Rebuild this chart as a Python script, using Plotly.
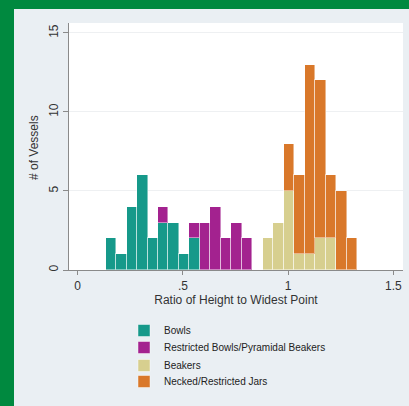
import plotly.graph_objects as go

# ---- data (histogram counts per bin) ----
bin_start = 0.1325
bin_width = 0.0498
bowls      = [2, 1, 4, 6, 2, 3, 3, 1, 2, 0, 0, 0, 0, 0, 0, 0, 0, 0, 0, 0, 0, 0, 0, 0]
restricted = [0, 0, 0, 0, 0, 1, 0, 0, 1, 3, 4, 2, 3, 2, 0, 0, 0, 0, 0, 0, 0, 0, 0, 0]
beakers    = [0, 0, 0, 0, 0, 0, 0, 0, 0, 0, 0, 0, 0, 0, 0, 2, 3, 5, 1, 1, 2, 2, 0, 0]
necked     = [0, 0, 0, 0, 0, 0, 0, 0, 0, 0, 0, 0, 0, 0, 0, 0, 0, 3, 5, 12, 10, 4, 5, 2]
series_names = ["Bowls", "Restricted Bowls/Pyramidal Beakers", "Beakers", "Necked/Restricted Jars"]
series_colors = ["#16998a", "#a3228f", "#d7cf8f", "#d9782a"]
x_ticks = [0, 0.5, 1, 1.5]
x_ticklabels = ["0", ".5", "1", "1.5"]
y_ticks = [0, 5, 10, 15]
x_title = "Ratio of Height to Widest Point"
y_title = "# of Vessels"

W, H = 409, 406
ML, MR, MT, MB = 69, 6, 23, 136
PW, PH = W - ML - MR, H - MT - MB


def px2x(px):
    return (px - ML) / PW


def py2y(py):
    return 1 - (py - MT) / PH


centers = [bin_start + bin_width * (i + 0.5) for i in range(len(bowls))]
legend_ids = ["legend", "legend2", "legend3", "legend4"]
legend_tops = [316, 333, 351, 367]

fig = go.Figure()
for name, vals, col, lid in zip(series_names, [bowls, restricted, beakers, necked], series_colors, legend_ids):
    fig.add_trace(go.Bar(
        x=centers,
        y=[v if v else None for v in vals],
        width=bin_width,
        name=name,
        legend=lid,
        marker=dict(color=col, line=dict(color="rgba(255,255,255,0.45)", width=1)),
    ))

font_family = "Liberation Sans, Arial, sans-serif"

legend_cfg = {}
for lid, top in zip(legend_ids, legend_tops):
    legend_cfg[lid] = dict(
        x=px2x(124), y=py2y(top), xanchor="left", yanchor="top",
        orientation="v", bgcolor="rgba(0,0,0,0)",
        font=dict(size=10, color="#222222"), itemwidth=30,
    )

fig.update_layout(
    width=W, height=H,
    margin=dict(l=ML, r=MR, t=MT, b=MB, pad=0),
    barmode="stack", bargap=0,
    paper_bgcolor="#eaeff3", plot_bgcolor="#ffffff",
    font=dict(family=font_family, color="#333333"),
    xaxis=dict(
        range=[-0.0413, 1.5454], tickvals=x_ticks, ticktext=x_ticklabels,
        ticks="outside", ticklen=4, tickcolor="#8a8a8a", tickwidth=1,
        showline=True, linecolor="#8a8a8a", linewidth=1,
        showgrid=False, zeroline=False, ticklabelstandoff=1,
        tickfont=dict(size=12, color="#333333"),
        title=dict(text=x_title, font=dict(size=12, color="#333333"), standoff=1),
    ),
    yaxis=dict(
        range=[0, 15.63], tickvals=y_ticks, tickangle=-90,
        ticks="outside", ticklen=5, tickcolor="#8a8a8a", tickwidth=1,
        showline=True, linecolor="#8a8a8a", linewidth=1,
        showgrid=True, gridcolor="#eef0f2", gridwidth=1, zeroline=False,
        tickfont=dict(size=12, color="#333333"),
    ),
    annotations=[
        dict(text=y_title, xref="paper", yref="paper", x=px2x(34), y=py2y(148),
             xanchor="center", yanchor="middle", textangle=-90, showarrow=False,
             font=dict(size=12, color="#333333")),
    ],
    showlegend=True,
    shapes=[
        dict(type="rect", xref="paper", yref="paper", x0=px2x(0), x1=px2x(14),
             y0=py2y(H), y1=py2y(0), fillcolor="#00893f", line=dict(width=0), layer="above"),
        dict(type="rect", xref="paper", yref="paper", x0=px2x(0), x1=px2x(W),
             y0=py2y(9), y1=py2y(0), fillcolor="#00893f", line=dict(width=0), layer="above"),
    ],
    **legend_cfg,
)

fig.write_html(
    "out.html",
    config={"displayModeBar": False},
    post_script="document.body.style.margin='0px';document.body.style.background='#eaeff3';",
)
